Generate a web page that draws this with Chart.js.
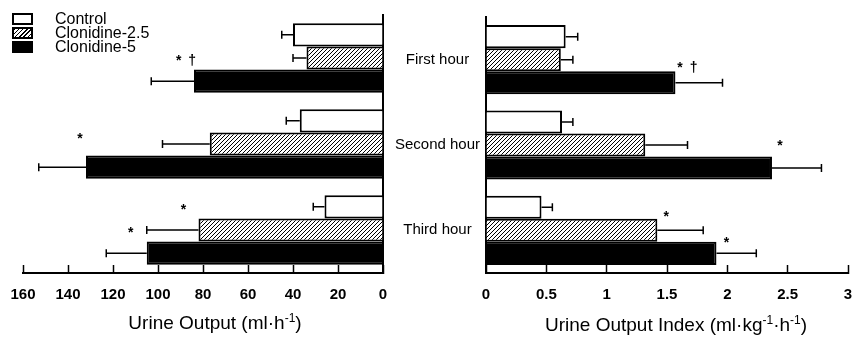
<!DOCTYPE html>
<html><head><meta charset="utf-8">
<script src="https://cdn.jsdelivr.net/npm/chart.js@4.4.1/dist/chart.umd.min.js"></script>
<style>
html,body{margin:0;padding:0;background:#fff;}
#wrap{position:relative;width:852px;height:337px;overflow:hidden;font-family:"Liberation Sans",Arial,sans-serif;color:#000;}
canvas{position:absolute;top:0;}
#cL{left:0;} #cR{left:388px;}
.sw{position:absolute;left:12px;width:21px;height:12px;box-sizing:border-box;border:2px solid #000;background:#fff;}
.lt{position:absolute;left:55px;font-size:16px;line-height:14px;white-space:nowrap;}
.ax{position:absolute;font-size:19px;white-space:nowrap;transform:translate(-50%,-50%);}
.ax sup{font-size:12px;vertical-align:7px;line-height:0;}
</style></head><body>
<div id="wrap">
<canvas id="cL" width="388" height="337"></canvas>
<canvas id="cR" width="464" height="337"></canvas>
<div id="legend"></div>
<div class="ax" style="left:215px;top:323px">Urine Output (ml·h<sup>-1</sup>)</div>
<div class="ax" style="left:676px;top:325px">Urine Output Index (ml·kg<sup>-1</sup>·h<sup>-1</sup>)</div>
</div>
<script>
// ---------- data ----------
const categories = ["First hour", "Second hour", "Third hour"];
const seriesNames = ["Control", "Clonidine-2.5", "Clonidine-5"];
// Urine output (ml·h-1): means and error bars
const outControl = [40, 37, 26];
const outClon25 = [34, 77, 82];
const outClon5 = [84, 132, 105];
const outControlErr = [5, 6, 5];
const outClon25Err = [6, 21, 23];
const outClon5Err = [19, 21, 18];
// Urine output index (ml·kg-1·h-1): means and error bars
const idxControl = [0.66, 0.63, 0.46];
const idxClon25 = [0.62, 1.32, 1.42];
const idxClon5 = [1.57, 2.37, 1.91];
const idxControlErr = [0.10, 0.09, 0.09];
const idxClon25Err = [0.10, 0.35, 0.38];
const idxClon5Err = [0.39, 0.41, 0.33];
// tick values and labels
const outTickValues = [0, 20, 40, 60, 80, 100, 120, 140, 160];
const outTickLabels = ["0", "20", "40", "60", "80", "100", "120", "140", "160"];
const idxTickValues = [0, 0.5, 1, 1.5, 2, 2.5, 3];
const idxTickLabels = ["0", "0.5", "1", "1.5", "2", "2.5", "3"];
// significance marks: [category index, series index, text]
const outMarks = [[0, 2, "*\u2002†"], [1, 2, "*"], [2, 1, "*"], [2, 2, "*"]];
const idxMarks = [[0, 2, "*\u2002†"], [1, 2, "*"], [2, 1, "*"], [2, 2, "*"]];

// ---------- styles ----------
const FONT = '"Liberation Sans", Arial, Helvetica, sans-serif';
const outMarkOffsets = [[-8, -5], [-6, -13], [-15, -4], [-16, -5]];
const idxMarkOffsets = [[12, 1], [8, -7], [9, 2], [10, 5]];

function makeHatch() {
  const p = document.createElement('canvas');
  p.width = 4; p.height = 4;
  const c = p.getContext('2d');
  c.fillStyle = '#fff'; c.fillRect(0, 0, 4, 4);
  c.strokeStyle = '#000'; c.lineWidth = 1;
  c.beginPath();
  c.moveTo(-1, 5); c.lineTo(5, -1);
  c.moveTo(-1, 1); c.lineTo(1, -1);
  c.moveTo(3, 5); c.lineTo(5, 3);
  c.stroke();
  return document.createElement('canvas').getContext('2d').createPattern(p, 'repeat');
}
const hatch = makeHatch();
const fills = ['#fff', hatch, '#000'];

// legend (HTML)
const legend = document.getElementById('legend');
const legTops = [13, 27, 41];
seriesNames.forEach((n, i) => {
  const sw = document.createElement('div');
  sw.className = 'sw';
  sw.style.top = legTops[i] + 'px';
  if (i === 1) sw.style.background = 'repeating-linear-gradient(135deg,#000 0 1px,#fff 1px 3px)';
  if (i === 2) sw.style.background = '#000';
  legend.appendChild(sw);
  const t = document.createElement('div');
  t.className = 'lt';
  t.style.top = (legTops[i] - 1) + 'px';
  t.textContent = n;
  legend.appendChild(t);
});

const errBars = {
  id: 'errbars',
  afterDatasetsDraw(chart) {
    const ctx = chart.ctx, xs = chart.scales.x;
    ctx.save();
    ctx.strokeStyle = '#000'; ctx.lineWidth = 1.5;
    chart.data.datasets.forEach((ds, i) => {
      const meta = chart.getDatasetMeta(i);
      meta.data.forEach((el, j) => {
        const v = ds.data[j], e = ds.errors[j];
        const x1 = xs.getPixelForValue(v + e), y = el.y;
        ctx.beginPath();
        ctx.moveTo(el.x, y); ctx.lineTo(x1, y);
        ctx.moveTo(x1, y - 4); ctx.lineTo(x1, y + 4);
        ctx.stroke();
      });
    });
    ctx.restore();
  }
};
const marks = {
  id: 'marks',
  afterDatasetsDraw(chart, args, opts) {
    const ctx = chart.ctx;
    ctx.save();
    ctx.fillStyle = '#000';
    ctx.font = 'bold 14px ' + FONT;
    ctx.textAlign = 'center';
    ctx.textBaseline = 'alphabetic';
    opts.list.forEach((m, k) => {
      const el = chart.getDatasetMeta(m[1]).data[m[0]];
      const off = opts.offsets[k];
      ctx.fillText(m[2], el.x + off[0], el.y - el.height / 2 + off[1]);
    });
    ctx.restore();
  }
};

function buildChart(id, vals, errs, xOpts, yOpts, pad, mk, mkOff) {
  return new Chart(document.getElementById(id), {
    type: 'bar',
    data: {
      labels: categories,
      datasets: seriesNames.map((n, i) => ({
        label: n, data: vals[i], errors: errs[i], backgroundColor: fills[i]
      }))
    },
    options: {
      indexAxis: 'y', responsive: false, animation: false, devicePixelRatio: 1,
      layout: { padding: pad },
      datasets: { bar: { categoryPercentage: 0.81, barPercentage: 1, borderColor: '#000', borderWidth: 2, borderSkipped: 'start' } },
      plugins: { legend: { display: false }, tooltip: { enabled: false }, marks: { list: mk, offsets: mkOff } },
      scales: { x: xOpts, y: yOpts }
    },
    plugins: [errBars, marks]
  });
}

const xBase = (values, labels, step, reverse) => ({
  type: 'linear', min: values[0], max: values[values.length - 1], reverse: reverse, position: 'bottom',
  afterFit: s => { s.height = 64; s.paddingLeft = 0; s.paddingRight = 0; },
  ticks: { stepSize: step, autoSkip: false, maxRotation: 0, color: '#000', padding: 21,
           font: { family: FONT, size: 15, weight: 'bold' },
           callback: v => labels[values.findIndex(t => Math.abs(t - v) < 1e-9)] },
  grid: { drawOnChartArea: false, drawTicks: true, tickLength: -8, color: '#000', tickWidth: 1.5 },
  border: { color: '#000', width: 2 }
});

buildChart('cL',
  [outControl, outClon25, outClon5],
  [outControlErr, outClon25Err, outClon5Err],
  xBase(outTickValues, outTickLabels, 20, true),
  { position: 'right', afterFit: s => { s.width = 0; }, ticks: { display: false },
    grid: { drawOnChartArea: false, drawTicks: false }, border: { color: '#000', width: 2 } },
  { left: 23, right: 5, top: 15, bottom: 0 }, outMarks, outMarkOffsets);

buildChart('cR',
  [idxControl, idxClon25, idxClon5],
  [idxControlErr, idxClon25Err, idxClon5Err],
  xBase(idxTickValues, idxTickLabels, 0.5, false),
  { position: 'left', afterFit: s => { s.width = 98; },
    ticks: { color: '#000', crossAlign: 'center', padding: 6, font: { family: FONT, size: 15 } },
    grid: { drawOnChartArea: false, drawTicks: false }, border: { color: '#000', width: 2 } },
  { left: 0, right: 4, top: 17, bottom: 0 }, idxMarks, idxMarkOffsets);
</script>
</body></html>
